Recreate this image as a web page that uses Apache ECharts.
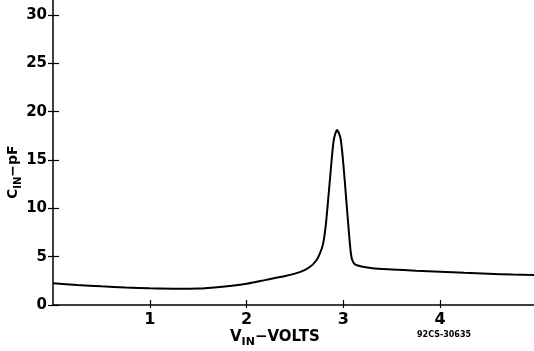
<!DOCTYPE html>
<html>
<head>
<meta charset="utf-8">
<script src="https://cdn.jsdelivr.net/npm/echarts@6/dist/echarts.min.js"></script>
<style>html,body{margin:0;padding:0;background:#fff}#c{width:534px;height:351px}</style>
</head>
<body>
<div id="c"></div>
<script>
const vinVolts = [0, 0.25, 0.5, 0.75, 1.0, 1.25, 1.5, 1.75, 2.0, 2.2, 2.4, 2.55, 2.65, 2.72, 2.76, 2.79, 2.82, 2.86, 2.9, 2.935, 2.97, 3.0, 3.03, 3.06, 3.075, 3.09, 3.12, 3.2, 3.3, 3.5, 3.75, 4.0, 4.25, 4.5, 4.75, 4.97];
const cinPf =    [2.24, 2.08, 1.93, 1.8, 1.72, 1.68, 1.7, 1.9, 2.2, 2.6, 3.0, 3.4, 3.9, 4.6, 5.4, 6.3, 8.4, 12.8, 17.0, 18.1, 17.3, 14.6, 10.9, 7.2, 5.6, 4.7, 4.2, 3.95, 3.8, 3.68, 3.55, 3.45, 3.33, 3.24, 3.15, 3.1];
const xTickValues = [1, 2, 3, 4];
const yTickValues = [0, 5, 10, 15, 20, 25, 30];
const figureCode = '92CS-30635';

const chart = echarts.init(document.getElementById('c'), null, {renderer: 'canvas'});
const font = 'DejaVu Sans';
const pts = vinVolts.map((x, i) => [x, cinPf[i]]);
chart.setOption({
  animation: false,
  backgroundColor: '#fff',
  grid: {left: 53, right: 0, top: 0, bottom: 46, containLabel: false},
  xAxis: [{
    type: 'value', min: 0, max: 4.97,
    axisLine: {show: true, lineStyle: {color: '#000', width: 1.5}},
    axisTick: {show: true, length: 3, customValues: xTickValues, lineStyle: {color: '#000', width: 1.2}},
    axisLabel: {customValues: xTickValues, color: '#000', fontFamily: font, fontWeight: 'bold', fontSize: 16, margin: 7},
    splitLine: {show: false}
  }, {
    type: 'value', min: 0, max: 4.97, position: 'bottom', offset: 0,
    axisLine: {show: false},
    axisTick: {show: true, inside: true, length: 5, customValues: xTickValues, lineStyle: {color: '#000', width: 1.2}},
    axisLabel: {show: false},
    splitLine: {show: false}
  }],
  yAxis: [{
    type: 'value', min: 0, max: 31.55,
    axisLine: {show: true, lineStyle: {color: '#000', width: 1.5}},
    axisTick: {show: true, length: 5, customValues: yTickValues, lineStyle: {color: '#000', width: 1.2}},
    axisLabel: {customValues: yTickValues, color: '#000', fontFamily: font, fontWeight: 'bold', fontSize: 15, margin: 6},
    splitLine: {show: false}
  }, {
    type: 'value', min: 0, max: 31.55, position: 'left', offset: 0,
    axisLine: {show: false},
    axisTick: {show: true, inside: true, length: 6, customValues: yTickValues, lineStyle: {color: '#000', width: 1.2}},
    axisLabel: {show: false},
    splitLine: {show: false}
  }],
  series: [{
    type: 'line', xAxisIndex: 0, yAxisIndex: 0,
    data: pts, showSymbol: false, smooth: 0.25,
    lineStyle: {color: '#000', width: 2}
  }],
  graphic: [
    {
      type: 'text', x: 230, y: 330,
      style: {
        text: '{a|V}{s|IN}{a|−VOLTS}',
        fill: '#000',
        rich: {
          a: {fontFamily: font, fontWeight: 'bold', fontSize: 15, lineHeight: 18, verticalAlign: 'top', fill: '#000'},
          s: {fontFamily: font, fontWeight: 'bold', fontSize: 11, lineHeight: 18, verticalAlign: 'bottom', padding: [6, 0, 0, 0], fill: '#000'}
        }
      }
    },
    {
      type: 'text', x: 6, y: 199, rotation: Math.PI / 2,
      style: {
        text: '{a|C}{s|IN}{a|−pF}',
        fill: '#000',
        rich: {
          a: {fontFamily: font, fontWeight: 'bold', fontSize: 14, lineHeight: 17, verticalAlign: 'top', fill: '#000'},
          s: {fontFamily: font, fontWeight: 'bold', fontSize: 10, lineHeight: 17, verticalAlign: 'bottom', padding: [6, 0, 0, 0], fill: '#000'}
        }
      }
    },
    {
      type: 'text', x: 417, y: 331,
      style: {text: figureCode, fill: '#000', font: 'bold 8px "DejaVu Sans"'}
    }
  ]
});
</script>
</body>
</html>
